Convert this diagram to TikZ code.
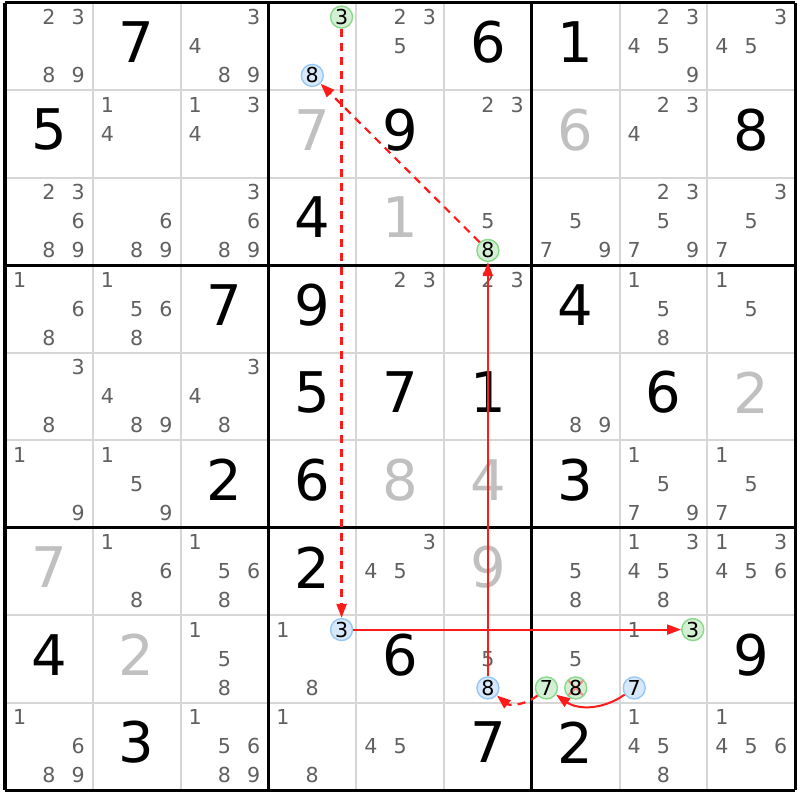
\documentclass[tikz,border=0pt]{standalone}
\usepackage{fontspec}
\setmainfont{DejaVu Sans}
\usetikzlibrary{arrows.meta}

\definecolor{pencil}{HTML}{606060}
\definecolor{solved}{HTML}{C0C0C0}
\definecolor{thingrid}{HTML}{D6D6D6}
\definecolor{onfill}{HTML}{D4F0D4}
\definecolor{ondraw}{HTML}{8AD88A}
\definecolor{offfill}{HTML}{D6E8FA}
\definecolor{offdraw}{HTML}{96C8F5}
\definecolor{crosscol}{HTML}{F08C8C}
\definecolor{linkcol}{HTML}{FF1A1A}

% cell width, cell height, grid origin
\newcommand{\cw}{87.8}
\newcommand{\ch}{87.5}
\newcommand{\ox}{5}
\newcommand{\oy}{2.5}

\begin{document}
\begin{tikzpicture}[x=0.5pt, y=-0.5pt,
    given/.style={font=\fontsize{28}{28}\selectfont, inner sep=0pt},
    found/.style={given, text=solved},
    cand/.style={font=\fontsize{10.3}{11}\selectfont, inner sep=0pt, text=pencil},
    hilite/.style={circle, minimum size=11pt, inner sep=0pt, line width=0.7pt,
        font=\fontsize{10.3}{11}\selectfont},
    oncand/.style={hilite, draw=ondraw, fill=onfill},
    offcand/.style={hilite, draw=offdraw, fill=offfill},
    delcand/.style={oncand, path picture={
        \draw[crosscol, line width=1pt]
            (path picture bounding box.north west) -- (path picture bounding box.south east)
            (path picture bounding box.north east) -- (path picture bounding box.south west);}},
    strong/.style={draw=linkcol, line width=1pt,
        -{Triangle[length=7pt,width=5pt,fill=linkcol]}},
    weak/.style={strong, line width=1.1pt, dash pattern=on 4pt off 3pt},
]
    \useasboundingbox (0,0) rectangle (800,800);

    % grid
    \foreach \i in {1,2,4,5,7,8} {
        \draw[thingrid, line width=1pt] ({\ox+\i*\cw},\oy) -- ({\ox+\i*\cw},{\oy+9*\ch});
        \draw[thingrid, line width=1pt] (\ox,{\oy+\i*\ch}) -- ({\ox+9*\cw},{\oy+\i*\ch});
    }
    \foreach \i in {0,3,6,9} {
        \draw[line width=1.5pt] ({\ox+\i*\cw},\oy) -- ({\ox+\i*\cw},{\oy+9*\ch});
        \draw[line width=1.5pt] (\ox,{\oy+\i*\ch}) -- ({\ox+9*\cw},{\oy+\i*\ch});
    }

    % givens and solved cells
    \foreach \r/\c/\v in {1/2/7, 1/6/6, 1/7/1, 2/1/5, 2/5/9, 2/9/8, 3/4/4, 4/3/7,
            4/4/9, 4/7/4, 5/4/5, 5/5/7, 5/6/1, 5/8/6, 6/3/2, 6/4/6, 6/7/3, 7/4/2,
            8/1/4, 8/5/6, 8/9/9, 9/2/3, 9/6/7, 9/7/2}
        \node[given] (v\r\c) at ({\ox+(\c-0.5)*\cw},{\oy+(\r-0.5)*\ch-4}) {\v};
    \foreach \r/\c/\v in {2/4/7, 2/7/6, 3/5/1, 5/9/2, 6/5/8, 6/6/4, 7/1/7, 7/6/9, 8/2/2}
        \node[found] (v\r\c) at ({\ox+(\c-0.5)*\cw},{\oy+(\r-0.5)*\ch-4}) {\v};

    % pencil marks
    \foreach \r/\c/\ds in {1/1/{2,3,8,9}, 1/3/{3,4,8,9}, 1/5/{2,3,5}, 1/8/{2,3,4,5,9},
            1/9/{3,4,5}, 2/2/{1,4}, 2/3/{1,3,4}, 2/6/{2,3}, 2/8/{2,3,4},
            3/1/{2,3,6,8,9}, 3/2/{6,8,9}, 3/3/{3,6,8,9}, 3/6/{5}, 3/7/{5,7,9},
            3/8/{2,3,5,7,9}, 3/9/{3,5,7}, 4/1/{1,6,8}, 4/2/{1,5,6,8}, 4/5/{2,3},
            4/6/{2,3}, 4/8/{1,5,8}, 4/9/{1,5}, 5/1/{3,8}, 5/2/{4,8,9}, 5/3/{3,4,8},
            5/7/{8,9}, 6/1/{1,9}, 6/2/{1,5,9}, 6/8/{1,5,7,9}, 6/9/{1,5,7},
            7/2/{1,6,8}, 7/3/{1,5,6,8}, 7/5/{3,4,5}, 7/7/{5,8}, 7/8/{1,3,4,5,8},
            7/9/{1,3,4,5,6}, 8/3/{1,5,8}, 8/4/{1,8}, 8/6/{5}, 8/7/{5}, 8/8/{1},
            9/1/{1,6,8,9}, 9/3/{1,5,6,8,9}, 9/4/{1,8}, 9/5/{4,5}, 9/8/{1,4,5,8},
            9/9/{1,4,5,6}}
        \foreach \d in \ds
            \node[cand] (p\r\c\d) at ({\ox+(\c-1)*\cw+(mod(\d-1,3)+0.5)*\cw/3},
                {\oy+(\r-1)*\ch+(floor((\d-1)/3)+0.5)*\ch/3}) {\d};

    % chain candidates
    \foreach \r/\c/\d/\kind/\name in {1/4/3/oncand/top3, 8/4/3/offcand/row3,
            8/8/3/oncand/end3, 1/4/8/offcand/top8, 3/6/8/oncand/box8,
            8/6/8/offcand/low8, 8/8/7/offcand/far7, 8/7/7/oncand/near7,
            8/7/8/delcand/del8}
        \node[\kind] (\name) at ({\ox+(\c-1)*\cw+(mod(\d-1,3)+0.5)*\cw/3},
            {\oy+(\r-1)*\ch+(floor((\d-1)/3)+0.5)*\ch/3}) {\d};

    % links
    \draw[weak] (top3) -- (row3);
    \draw[strong] (row3) -- (end3);
    \draw[weak] (box8) -- (top8);
    \draw[strong] (low8) -- (box8);
    \draw[strong] (far7) to[bend left=35] (near7);
    \draw[weak] (near7) to[bend left=40] (low8);
\end{tikzpicture}
\end{document}
